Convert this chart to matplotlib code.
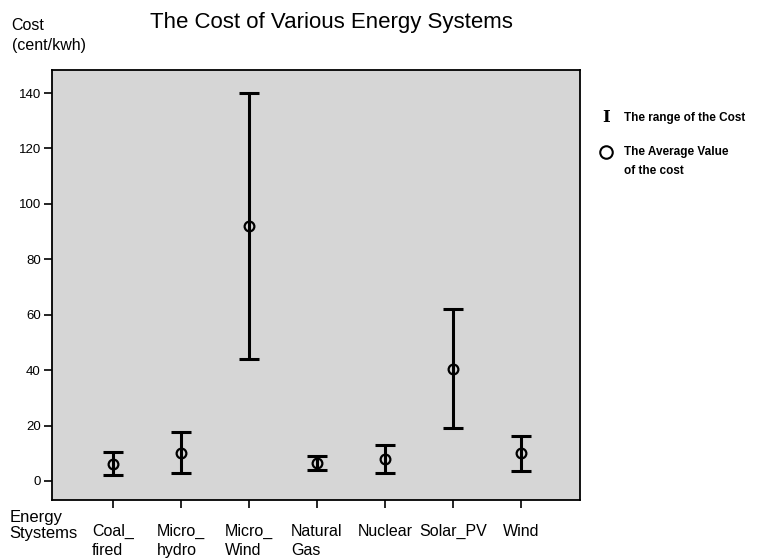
import matplotlib
matplotlib.use("Agg")
import matplotlib.pyplot as plt
from matplotlib.lines import Line2D

plt.rcParams['font.family'] = ['Liberation Sans', 'DejaVu Sans']

categories = ["Coal_\nfired", "Micro_\nhydro", "Micro_\nWind", "Natural\nGas", "Nuclear", "Solar_PV", "Wind"]
low = [2.2, 3.0, 44.0, 4.0, 3.0, 19.0, 3.7]
high = [10.5, 17.7, 140.0, 9.0, 13.0, 62.0, 16.2]
mean = [6.3, 10.2, 92.0, 6.5, 8.0, 40.4, 10.0]
yticks = [0, 20, 40, 60, 80, 100, 120, 140]

fig = plt.figure(figsize=(7.7, 5.6), dpi=100)
ax = fig.add_axes([0.0675, 0.107, 0.6855, 0.768])
ax.set_facecolor('#d6d6d6')

x = list(range(1, len(categories) + 1))
lower_err = [m - l for m, l in zip(mean, low)]
upper_err = [h - m for m, h in zip(mean, high)]
ax.errorbar(x, mean, yerr=[lower_err, upper_err], fmt='none', ecolor='black',
            elinewidth=2.2, capsize=7, capthick=2.2, zorder=2)
ax.plot(x, mean, 'o', markersize=7, markerfacecolor='none', markeredgecolor='black',
        markeredgewidth=1.6, zorder=3)

ax.set_xlim(0.106, 7.865)
ax.set_ylim(-6.9, 148.3)
ax.set_yticks(yticks)
ax.set_yticklabels([str(v) for v in yticks], fontsize=9.5)
ax.set_xticks(x)
ax.set_xticklabels(categories, fontsize=11.5, va='top', ha='center', linespacing=1.35,
                   multialignment='left')
ax.tick_params(axis='y', direction='out', length=6, width=1.2, pad=2)
ax.tick_params(axis='x', direction='out', length=6, width=1.2, pad=11)
for s in ax.spines.values():
    s.set_linewidth(1.3)
    s.set_color('black')

fig.text(0.43, 0.978, "The Cost of Various Energy Systems", fontsize=16, ha='center', va='top')
fig.text(0.015, 0.968, "Cost", fontsize=11.5, ha='left', va='top')
fig.text(0.015, 0.932, "(cent/kwh)", fontsize=11.5, ha='left', va='top')
fig.text(0.012, 0.09, "Energy\nStystems", fontsize=12, ha='left', va='top', linespacing=1.15)

# legend
lx = 0.787
fig.text(lx, 0.79, "I", fontsize=12, ha='center', va='center', fontweight='bold', family='DejaVu Serif')
fig.text(0.81, 0.79, "The range of the Cost", fontsize=8.5, ha='left', va='center', fontweight='bold')
fig.add_artist(Line2D([lx], [0.728], marker='o', markersize=9, markerfacecolor='none',
                      markeredgecolor='black', markeredgewidth=1.5, transform=fig.transFigure))
fig.text(0.81, 0.728, "The Average Value", fontsize=8.5, ha='left', va='center', fontweight='bold')
fig.text(0.81, 0.695, "of the cost", fontsize=8.5, ha='left', va='center', fontweight='bold')

fig.savefig("out.png", dpi=100)
